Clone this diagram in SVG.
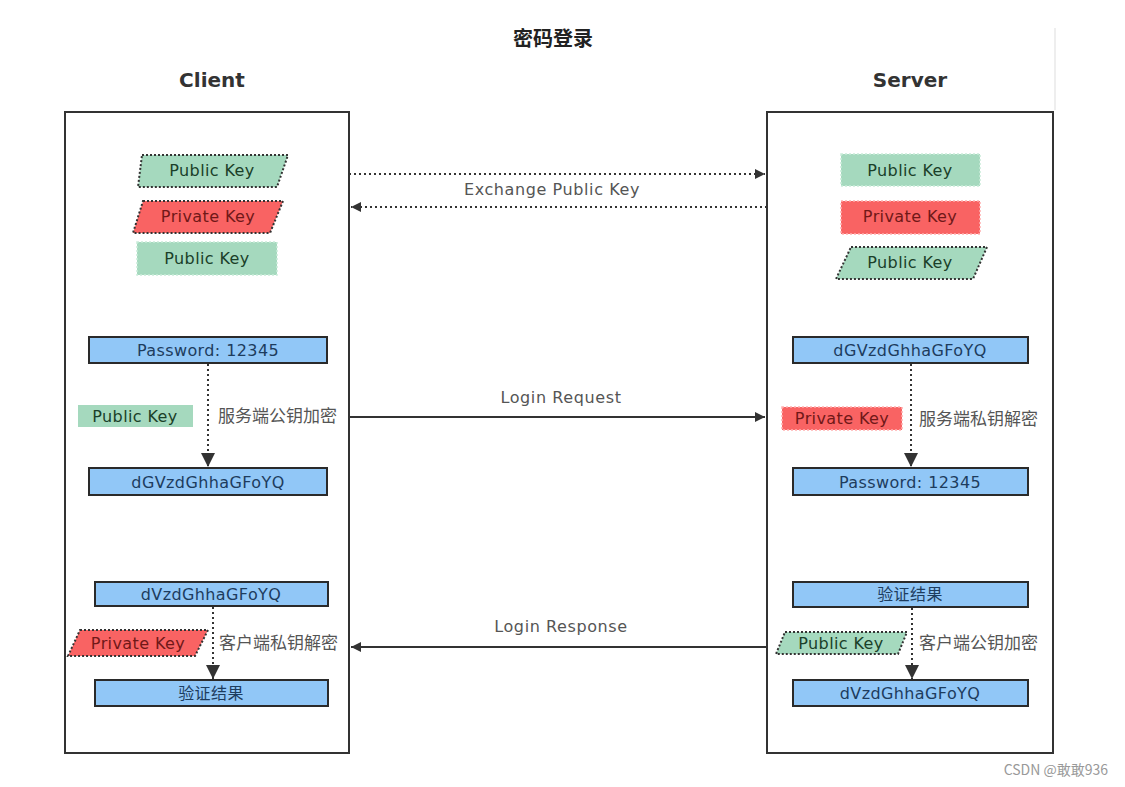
<svg xmlns="http://www.w3.org/2000/svg" width="1125" height="787" viewBox="0 0 1125 787">
<defs>
<style>
.title{font-family:"Noto Sans CJK SC","DejaVu Sans",sans-serif;font-size:20px;font-weight:bold;fill:#222;text-anchor:middle;}
.head{font-family:"DejaVu Sans",sans-serif;font-size:20px;font-weight:bold;fill:#333;text-anchor:middle;}
.panel{fill:#fff;stroke:#333;stroke-width:2;}
.box{fill:#91c7f7;stroke:#2a2a2a;stroke-width:2;}
.boxt{font-family:"DejaVu Sans","Noto Sans CJK SC",sans-serif;font-size:16px;letter-spacing:0.4px;fill:#1d3c5e;text-anchor:middle;}
.gr{fill:#a5d9be;}
.grd{fill:#a5d9be;stroke:#333;stroke-width:2;stroke-dasharray:2,2;}
.grl{fill:#a5d9be;stroke:#c9ecd9;stroke-width:1.5;stroke-dasharray:2,2;}
.rd{fill:#f96363;stroke:#333;stroke-width:2;stroke-dasharray:2,2;}
.rdl{fill:#f96363;stroke:#ffb0b0;stroke-width:1.5;stroke-dasharray:2,2;}
.gt{font-family:"DejaVu Sans",sans-serif;font-size:16px;letter-spacing:0.4px;fill:#1a4029;text-anchor:middle;}
.rt{font-family:"DejaVu Sans",sans-serif;font-size:16px;letter-spacing:0.4px;fill:#701818;text-anchor:middle;}
.lbl{font-family:"DejaVu Sans",sans-serif;font-size:16px;letter-spacing:0.6px;fill:#555;text-anchor:middle;}
.cn{font-family:"Noto Sans CJK SC",sans-serif;font-size:17px;fill:#555;}
.dot{stroke:#333;stroke-width:2;stroke-dasharray:2,3;fill:none;}
.sol{stroke:#333;stroke-width:2;fill:none;}
</style>
<marker id="ah" viewBox="0 0 10 10" refX="10" refY="5" markerWidth="16" markerHeight="10" markerUnits="userSpaceOnUse" orient="auto">
<path d="M0,0 L10,5 L0,10 z" fill="#333"/>
</marker>
<marker id="av" viewBox="0 0 10 10" refX="10" refY="5" markerWidth="14" markerHeight="14" markerUnits="userSpaceOnUse" orient="auto">
<path d="M0,0 L10,5 L0,10 z" fill="#333"/>
</marker>
</defs>
<rect width="1125" height="787" fill="#fff"/>
<line x1="1055" y1="28" x2="1055" y2="110" stroke="#ddd" stroke-width="1"/>
<text class="title" x="553" y="46">密码登录</text>
<text class="head" x="212" y="87">Client</text>
<text class="head" x="910" y="87">Server</text>

<g id="client">
<rect class="panel" x="65" y="112" width="284" height="641"/>
</g>
<g id="server">
<rect class="panel" x="767" y="112" width="286" height="641"/>
</g>

<g id="c-pub1"><polygon class="grd" points="142,155 288,155 277,187 138,187"/><text class="gt" x="212" y="176">Public Key</text></g>
<g id="c-priv1"><polygon class="rd" points="143,201 283,201 270,233 133,233"/><text class="rt" x="208" y="222">Private Key</text></g>
<g id="c-pub2"><rect class="grl" x="137" y="242" width="140" height="33"/><text class="gt" x="207" y="264">Public Key</text></g>

<g id="s-pub1"><rect class="grl" x="841" y="154" width="139" height="32"/><text class="gt" x="910" y="176">Public Key</text></g>
<g id="s-priv1"><rect class="rdl" x="841" y="201" width="139" height="33"/><text class="rt" x="910" y="222">Private Key</text></g>
<g id="s-pub2"><polygon class="grd" points="851,247 987,247 973,279 836,279" /><text class="gt" x="910" y="268">Public Key</text></g>

<g id="c-pwd"><rect class="box" x="89" y="337" width="238" height="26"/><text class="boxt" x="208" y="356">Password: 12345</text></g>
<g id="c-pubk"><rect class="gr" x="78" y="405" width="115" height="22"/><text class="gt" x="135" y="422">Public Key</text></g>
<g id="c-enc"><rect class="box" x="89" y="468" width="238" height="27"/><text class="boxt" x="208" y="488">dGVzdGhhaGFoYQ</text></g>

<g id="s-enc"><rect class="box" x="793" y="337" width="235" height="26"/><text class="boxt" x="910" y="356">dGVzdGhhaGFoYQ</text></g>
<g id="s-privk"><rect class="rdl" x="782" y="407" width="120" height="23"/><text class="rt" x="842" y="424">Private Key</text></g>
<g id="s-pwd"><rect class="box" x="793" y="468" width="235" height="27"/><text class="boxt" x="910" y="488">Password: 12345</text></g>

<g id="c-resp"><rect class="box" x="95" y="582" width="233" height="24"/><text class="boxt" x="211" y="600">dVzdGhhaGFoYQ</text></g>
<g id="c-privk"><polygon class="rd" points="80,630 208,630 195,656 68,656"/><text class="rt" x="138" y="649">Private Key</text></g>
<g id="c-res"><rect class="box" x="95" y="680" width="233" height="26"/><text class="boxt" x="211" y="699">验证结果</text></g>

<g id="s-res"><rect class="box" x="793" y="582" width="235" height="25"/><text class="boxt" x="910" y="600">验证结果</text></g>
<g id="s-pubk"><polygon class="grd" points="785,632 907,632 898,654 776,654"/><text class="gt" x="841" y="649">Public Key</text></g>
<g id="s-out"><rect class="box" x="793" y="680" width="235" height="26"/><text class="boxt" x="910" y="699">dVzdGhhaGFoYQ</text></g>

<g id="connectors">
<line class="dot" x1="349" y1="174" x2="765" y2="174" marker-end="url(#ah)"/>
<line class="dot" x1="767" y1="207" x2="351" y2="207" marker-end="url(#ah)"/>
<text class="lbl" x="552" y="195">Exchange Public Key</text>
<line class="sol" x1="349" y1="417" x2="765" y2="417" marker-end="url(#ah)"/>
<text class="lbl" x="561" y="403">Login Request</text>
<line class="sol" x1="767" y1="647" x2="351" y2="647" marker-end="url(#ah)"/>
<text class="lbl" x="561" y="632">Login Response</text>
<line class="dot" x1="208" y1="364" x2="208" y2="467" marker-end="url(#av)"/>
<line class="dot" x1="911" y1="364" x2="911" y2="467" marker-end="url(#av)"/>
<line class="dot" x1="213" y1="607" x2="213" y2="679" marker-end="url(#av)"/>
<line class="dot" x1="912" y1="608" x2="912" y2="679" marker-end="url(#av)"/>
<text class="cn" x="218" y="422">服务端公钥加密</text>
<text class="cn" x="919" y="425">服务端私钥解密</text>
<text class="cn" x="219" y="649">客户端私钥解密</text>
<text class="cn" x="919" y="649">客户端公钥加密</text>
</g>
<text x="1108" y="775" font-family="Noto Sans CJK SC,sans-serif" font-size="14" fill="#999" text-anchor="end">CSDN @敢敢936</text>
</svg>
